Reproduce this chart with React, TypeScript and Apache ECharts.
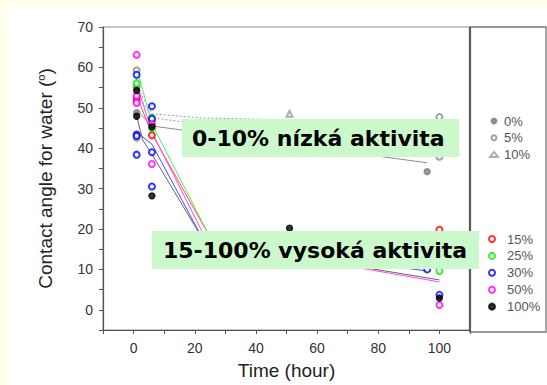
import React, { useEffect, useRef } from "react";
import * as echarts from "echarts";

// Measured points (time in hours, contact angle in degrees)
const pts0: number[][] = [[1, 48.8], [1, 55], [6, 46], [96, 34.2]];
const pts5: number[][] = [[1, 59.3], [1, 42.6], [100, 47.7], [100, 37.9]];
const pts10: number[][] = [[1, 56], [6, 47.5], [51, 48.5]];
const pts15: number[][] = [[1, 52.5], [1, 51.6], [6, 43.2], [100, 19.8]];
const pts25: number[][] = [[1, 56.1], [6, 47.5], [6, 45], [100, 9.6]];
const pts30: number[][] = [[1, 58.2], [1, 43.4], [1, 43], [1, 38.4], [6, 50.4], [6, 47.3], [6, 39], [6, 30.5], [96, 10], [100, 3.7]];
const pts50: number[][] = [[1, 63.1], [1, 53], [1, 51.2], [6, 45.9], [6, 36.1], [100, 1.2]];
const pts100: number[][] = [[1, 54.3], [1, 47.9], [6, 45.3], [6, 28.2], [51, 20.2], [100, 2.9]];

// Fitted trend lines
const fit0: number[][] = [[1, 49.5], [6, 45.5], [96, 36.4]];
const fit5: number[][] = [[1, 54], [6, 47.5], [100, 38.5]];
const fit10: number[][] = [[1, 55.5], [6, 48.5], [22, 47.5], [51, 47]];
const fit15: number[][] = [[1, 53], [6, 43.5], [25, 18], [100, 14]];
const fit25: number[][] = [[1, 60], [6, 46], [25, 18], [100, 11]];
const fit30: number[][] = [[1, 44], [6, 41], [23, 17], [96, 9.6]];
const fit50: number[][] = [[1, 56], [6, 44], [24, 17], [100, 6.9]];
const fit100: number[][] = [[1, 48], [3, 42], [6, 38.5], [23, 17], [100, 7.4]];

const lowNames = ["0%", "5%", "10%"];
const highNames = ["15%", "25%", "30%", "50%", "100%"];

const xTicks = { min: -10, max: 110, step: 10, labelStep: 20 };
const yTicks = { min: -5, max: 70, step: 5, labelStep: 10 };

const labelLow = "0-10% nízká aktivita";
const labelHigh = "15-100% vysoká aktivita";

const FONT = "'Liberation Sans', Arial, sans-serif";

export default function App() {
  const ref = useRef<HTMLDivElement>(null);
  useEffect(() => {
    if (!ref.current) return;
    const chart = echarts.init(ref.current, undefined, { renderer: "svg" });
    const scatter = (name: string, data: number[][], symbol: string, color: string) => ({
      name,
      type: "scatter",
      data,
      symbol,
      symbolSize: 6,
      itemStyle: { color, borderColor: color, borderWidth: 1.4 },
      z: 3,
    });
    const line = (name: string, data: number[][], color: string, dotted = false) => ({
      name,
      type: "line",
      data,
      symbol: "none",
      silent: true,
      lineStyle: { color, width: 1, type: dotted ? [2, 2] : "solid" },
      z: 2,
    });
    chart.setOption({
      animation: false,
      backgroundColor: "#FFFFEC",
      grid: {
        left: 103,
        right: 77,
        top: 27,
        bottom: 54,
        show: true,
        backgroundColor: "#ffffff",
        borderColor: "#8a8a8a",
        borderWidth: 1,
      },
      xAxis: {
        type: "value",
        min: xTicks.min,
        max: xTicks.max,
        interval: xTicks.step,
        name: "Time (hour)",
        nameLocation: "middle",
        nameGap: 31,
        nameTextStyle: { fontFamily: FONT, fontSize: 19, color: "#222" },
        axisLine: { show: true, onZero: false, lineStyle: { color: "#555", width: 1.2 } },
        axisTick: { show: true, length: 4, lineStyle: { color: "#555" } },
        splitLine: { show: false },
        axisLabel: {
          margin: 11,
          fontFamily: FONT,
          fontSize: 14,
          color: "#333",
          formatter: (v: number) => (v % xTicks.labelStep === 0 && v >= 0 && v <= 100 ? String(v) : ""),
        },
      },
      yAxis: {
        type: "value",
        min: yTicks.min,
        max: yTicks.max,
        interval: yTicks.step,
        name: "{t|Contact angle for water (}{s|o}{t|)}",
        nameLocation: "middle",
        nameGap: 48,
        nameTextStyle: {
          rich: {
            t: { fontFamily: FONT, fontSize: 19, color: "#222" },
            s: { fontFamily: FONT, fontSize: 11, color: "#222", verticalAlign: "top", padding: [0, 0, 9, 0] },
          },
        },
        axisLine: { show: true, onZero: false, lineStyle: { color: "#555", width: 1.2 } },
        axisTick: { show: true, length: 4, lineStyle: { color: "#555" } },
        splitLine: { show: false },
        axisLabel: {
          margin: 10,
          fontFamily: FONT,
          fontSize: 14,
          color: "#333",
          formatter: (v: number) => (v % yTicks.labelStep === 0 ? String(v) : ""),
        },
      },
      legend: [
        {
          data: lowNames,
          orient: "vertical",
          left: 484,
          top: 109,
          itemWidth: 8,
          itemHeight: 5,
          itemGap: 2.7,
          textStyle: { fontFamily: FONT, fontSize: 13, color: "#555", lineHeight: 14, padding: [0, 0, 0, 1] },
        },
        {
          data: highNames,
          orient: "vertical",
          left: 483,
          top: 227,
          itemWidth: 8,
          itemHeight: 6,
          itemGap: 2.9,
          textStyle: { fontFamily: FONT, fontSize: 13, color: "#555", lineHeight: 14, padding: [0, 0, 0, 6] },
        },
      ],
      series: [
        line("fit0", fit0, "#8c8c8c"),
        line("fit5", fit5, "#9a9a9a", true),
        line("fit10", fit10, "#9a9a9a", true),
        line("fit15", fit15, "#ff4a4a"),
        line("fit25", fit25, "#55ee55"),
        line("fit30", fit30, "#4a4aff"),
        line("fit50", fit50, "#ff44ff"),
        line("fit100", fit100, "#666666"),
        scatter("0%", pts0, "circle", "#808080"),
        scatter("5%", pts5, "emptyCircle", "#8a8a8a"),
        scatter("10%", pts10, "emptyTriangle", "#9a9a9a"),
        scatter("15%", pts15, "emptyCircle", "#ff0000"),
        scatter("25%", pts25, "emptyCircle", "#00ee00"),
        scatter("30%", pts30, "emptyCircle", "#0000ff"),
        scatter("50%", pts50, "emptyCircle", "#ff00ff"),
        scatter("100%", pts100, "circle", "#000000"),
      ],
      graphic: [
        { type: "rect", z: -10, shape: { x: 8, y: 5, width: 539, height: 380 }, style: { fill: "#ffffff" } },
        {
          type: "rect",
          z: 1,
          shape: { x: 470, y: 27, width: 76, height: 305 },
          style: { fill: "#ffffff", stroke: "#777", lineWidth: 1.3 },
        },
        {
          type: "line",
          z: 5,
          shape: { x1: 470, y1: 27, x2: 470, y2: 332 },
          style: { stroke: "#5a5a5a", lineWidth: 2.2 },
        },
        {
          type: "rect",
          z: 50,
          shape: { x: 182, y: 119, width: 277, height: 38 },
          style: { fill: "#CCF9CC" },
        },
        {
          type: "text",
          z: 51,
          x: 192,
          y: 138,
          style: {
            text: labelLow,
            fontFamily: "'DejaVu Sans', Verdana, sans-serif",
            fontWeight: "bold",
            fontSize: 22,
            fill: "#000",
            verticalAlign: "middle",
          },
        },
        {
          type: "rect",
          z: 50,
          shape: { x: 152, y: 231, width: 327, height: 38 },
          style: { fill: "#CCF9CC" },
        },
        {
          type: "text",
          z: 51,
          x: 163,
          y: 250,
          style: {
            text: labelHigh,
            fontFamily: "'DejaVu Sans', Verdana, sans-serif",
            fontWeight: "bold",
            fontSize: 22,
            fill: "#000",
            verticalAlign: "middle",
          },
        },
      ],
    });
    return () => chart.dispose();
  }, []);
  return (
    <div
      ref={ref}
      style={{ position: "fixed", left: 0, top: 0, width: 547, height: 385 }}
    />
  );
}
